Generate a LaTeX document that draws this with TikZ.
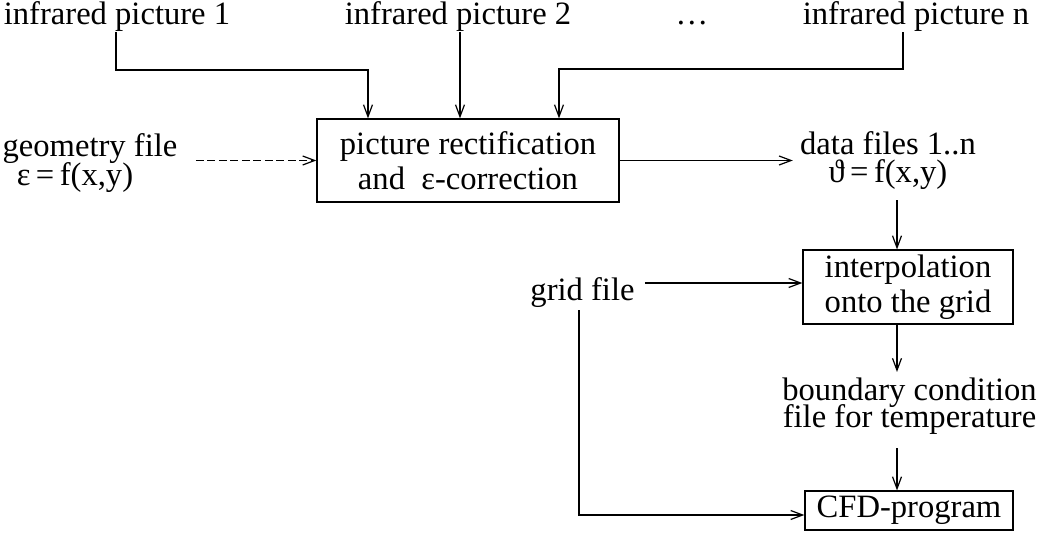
\documentclass[tikz,border=0pt]{standalone}
\usepackage{fontspec}
\setmainfont{Liberation Serif}
\usetikzlibrary{arrows.meta,calc}
\tikzset{
  every node/.style={inner sep=0pt, font=\fontsize{16.3}{14}\selectfont},
  lbl/.style={anchor=base},
  boxnode/.style={draw, line width=0.6pt, align=center, font=\fontsize{16.3}{17.75}\selectfont},
  arr/.style={line width=0.6pt, -{Straight Barb[length=6pt,width=4.5pt,line width=0.6pt]}},
  dsh/.style={dash pattern=on 4pt off 1.75pt}
}
\begin{document}
\begin{tikzpicture}[x=0.5pt,y=-0.5pt]
\useasboundingbox (0,0) rectangle (1040,540);
% top labels
\node[lbl] (ir1) at (117,25) {infrared picture 1};
\node[lbl] (ir2) at (458,25) {infrared picture 2};
\node[lbl] (dots) at (692,25) {…};
\node[lbl] (irn) at (916,25) {infrared picture n};
% left inputs
\node[lbl] (geo) at (90,157) {geometry file};
\node[lbl] (geoeq) at (75,185) {ε\,=\,f(x,y)};
% boxes
\node[boxnode, minimum width=151pt, minimum height=41.5pt] (box1) at (468,160.5)
  {picture rectification\\and\ \ ε-correction};
\node[boxnode, minimum width=105pt, minimum height=37pt] (box2) at (908,287)
  {interpolation\\onto the grid};
\node[boxnode, minimum width=104pt, minimum height=19.5pt] (cfd) at (909,510.5)
  {CFD-program};
% outputs
\node[lbl] (data) at (888,155) {data files 1..n};
\node[lbl] (theta) at (888,183) {ϑ\,=\,f(x,y)};
\node[lbl] (grid) at (582.5,300) {grid file};
\node[lbl] (bc) at (909.5,400) {boundary condition};
\node[lbl] (temp) at (909.5,427) {file for temperature};
% helper coordinates
\coordinate (k1) at (368,70);
\coordinate (kn) at (559,69);
\coordinate (col) at (897,0);
% connectors from infrared pictures
\draw[arr] ([xshift=-0.5pt]ir1.south) |- (k1) -- (k1 |- box1.north);
\path ([xshift=1pt]ir2.south) coordinate (s2);
\draw[arr] (s2) -- (s2 |- box1.north);
\draw[arr] ([xshift=-6.5pt]irn.south) |- (kn) -- (kn |- box1.north);
% geometry file dashed
\path ([shift={(9pt,-1.75pt)}]geo.base east) coordinate (g1);
\draw[arr,dsh] (g1) -- (g1 -| box1.west);
% box1 to data files
\draw[arr, shorten >=3.5pt] (box1.east) -- (box1.east -| data.west);
% theta to box2
\draw[arr, shorten <=5pt] (theta.south -| col) -- (col |- box2.north);
% box2 to boundary condition
\draw[arr, shorten >=2.5pt] (col |- box2.south) -- (col |- bc.north);
% temperature to CFD
\draw[arr, shorten <=7pt] (temp.south -| col) -- (col |- cfd.north);
% grid file
\path ([shift={(5pt,8.5pt)}]grid.base east) coordinate (g0);
\draw[arr] (g0) -- (g0 -| box2.west);
\path ([shift={(-1.75pt,-1.5pt)}]grid.south) coordinate (g2);
\draw[arr] (g2) |- ([yshift=-2.25pt]cfd.west);
\end{tikzpicture}
\end{document}
